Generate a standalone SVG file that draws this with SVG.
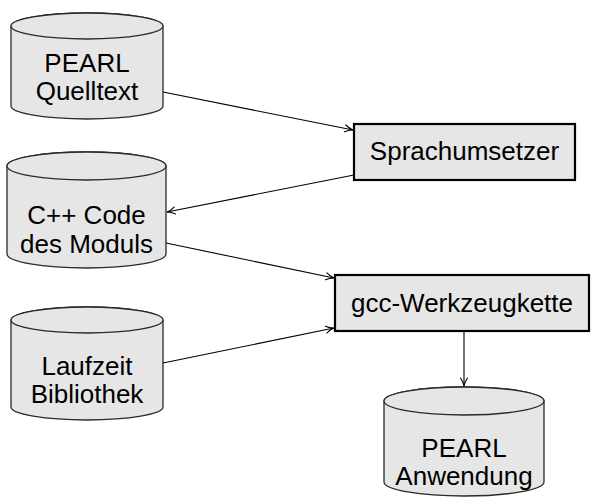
<svg xmlns="http://www.w3.org/2000/svg" width="591" height="500" viewBox="0 0 591 500">
<defs>
<marker id="arr" viewBox="0 0 10 10" refX="9" refY="5" markerWidth="10" markerHeight="10" markerUnits="userSpaceOnUse" orient="auto">
<path d="M1,1.5 Q5,4.3 9,5 Q5,5.7 1,8.5" fill="none" stroke="#000" stroke-width="1.1" stroke-linecap="round"/>
</marker>
</defs>
<style>
.cyl{fill:#e6e6e6;stroke:#2a2a2a;stroke-width:1.3}
.box{fill:#e6e6e6;stroke:#000;stroke-width:2.2}
.t{font-family:"Liberation Sans","DejaVu Sans",sans-serif;font-size:26px;fill:#000;text-anchor:middle}
.c{fill:none;stroke:#000;stroke-width:1.1;marker-end:url(#arr)}
</style>
<g id="quelltext">
<path class="cyl" d="M11,26 L11,106 A76,13 0 0 0 163,106 L163,26 A76,13 0 0 0 11,26 Z"/>
<ellipse class="cyl" cx="87" cy="26" rx="76" ry="13"/>
<text class="t" x="87" y="72">PEARL</text>
<text class="t" x="87" y="100">Quelltext</text>
</g>
<g id="sprachumsetzer">
<rect class="box" x="354" y="124" width="221" height="56"/>
<text class="t" x="464.5" y="160">Sprachumsetzer</text>
</g>
<g id="cppcode">
<path class="cyl" d="M7,166 L7,254 A79.5,14 0 0 0 166,254 L166,166 A79.5,14 0 0 0 7,166 Z"/>
<ellipse class="cyl" cx="86.5" cy="166" rx="79.5" ry="14"/>
<text class="t" x="86.5" y="224">C++ Code</text>
<text class="t" x="86.5" y="253">des Moduls</text>
</g>
<g id="gcc">
<rect class="box" x="335" y="275" width="254" height="56"/>
<text class="t" x="462" y="312">gcc-Werkzeugkette</text>
</g>
<g id="laufzeit">
<path class="cyl" d="M11,320 L11,407 A76,13 0 0 0 163,407 L163,320 A76,13 0 0 0 11,320 Z"/>
<ellipse class="cyl" cx="87" cy="320" rx="76" ry="13"/>
<text class="t" x="87" y="375">Laufzeit</text>
<text class="t" x="87" y="403">Bibliothek</text>
</g>
<g id="anwendung">
<path class="cyl" d="M384,401 L384,482 A80,14 0 0 0 544,482 L544,401 A80,14 0 0 0 384,401 Z"/>
<ellipse class="cyl" cx="464" cy="401" rx="80" ry="14"/>
<text class="t" x="464" y="457">PEARL</text>
<text class="t" x="464" y="485">Anwendung</text>
</g>
<g id="connectors">
<line class="c" x1="163" y1="92" x2="353" y2="130"/>
<line class="c" x1="354" y1="175" x2="167" y2="212"/>
<line class="c" x1="166" y1="243" x2="334" y2="278"/>
<line class="c" x1="163" y1="363" x2="334" y2="328"/>
<line class="c" x1="464" y1="331" x2="464" y2="386"/>
</g>
</svg>
